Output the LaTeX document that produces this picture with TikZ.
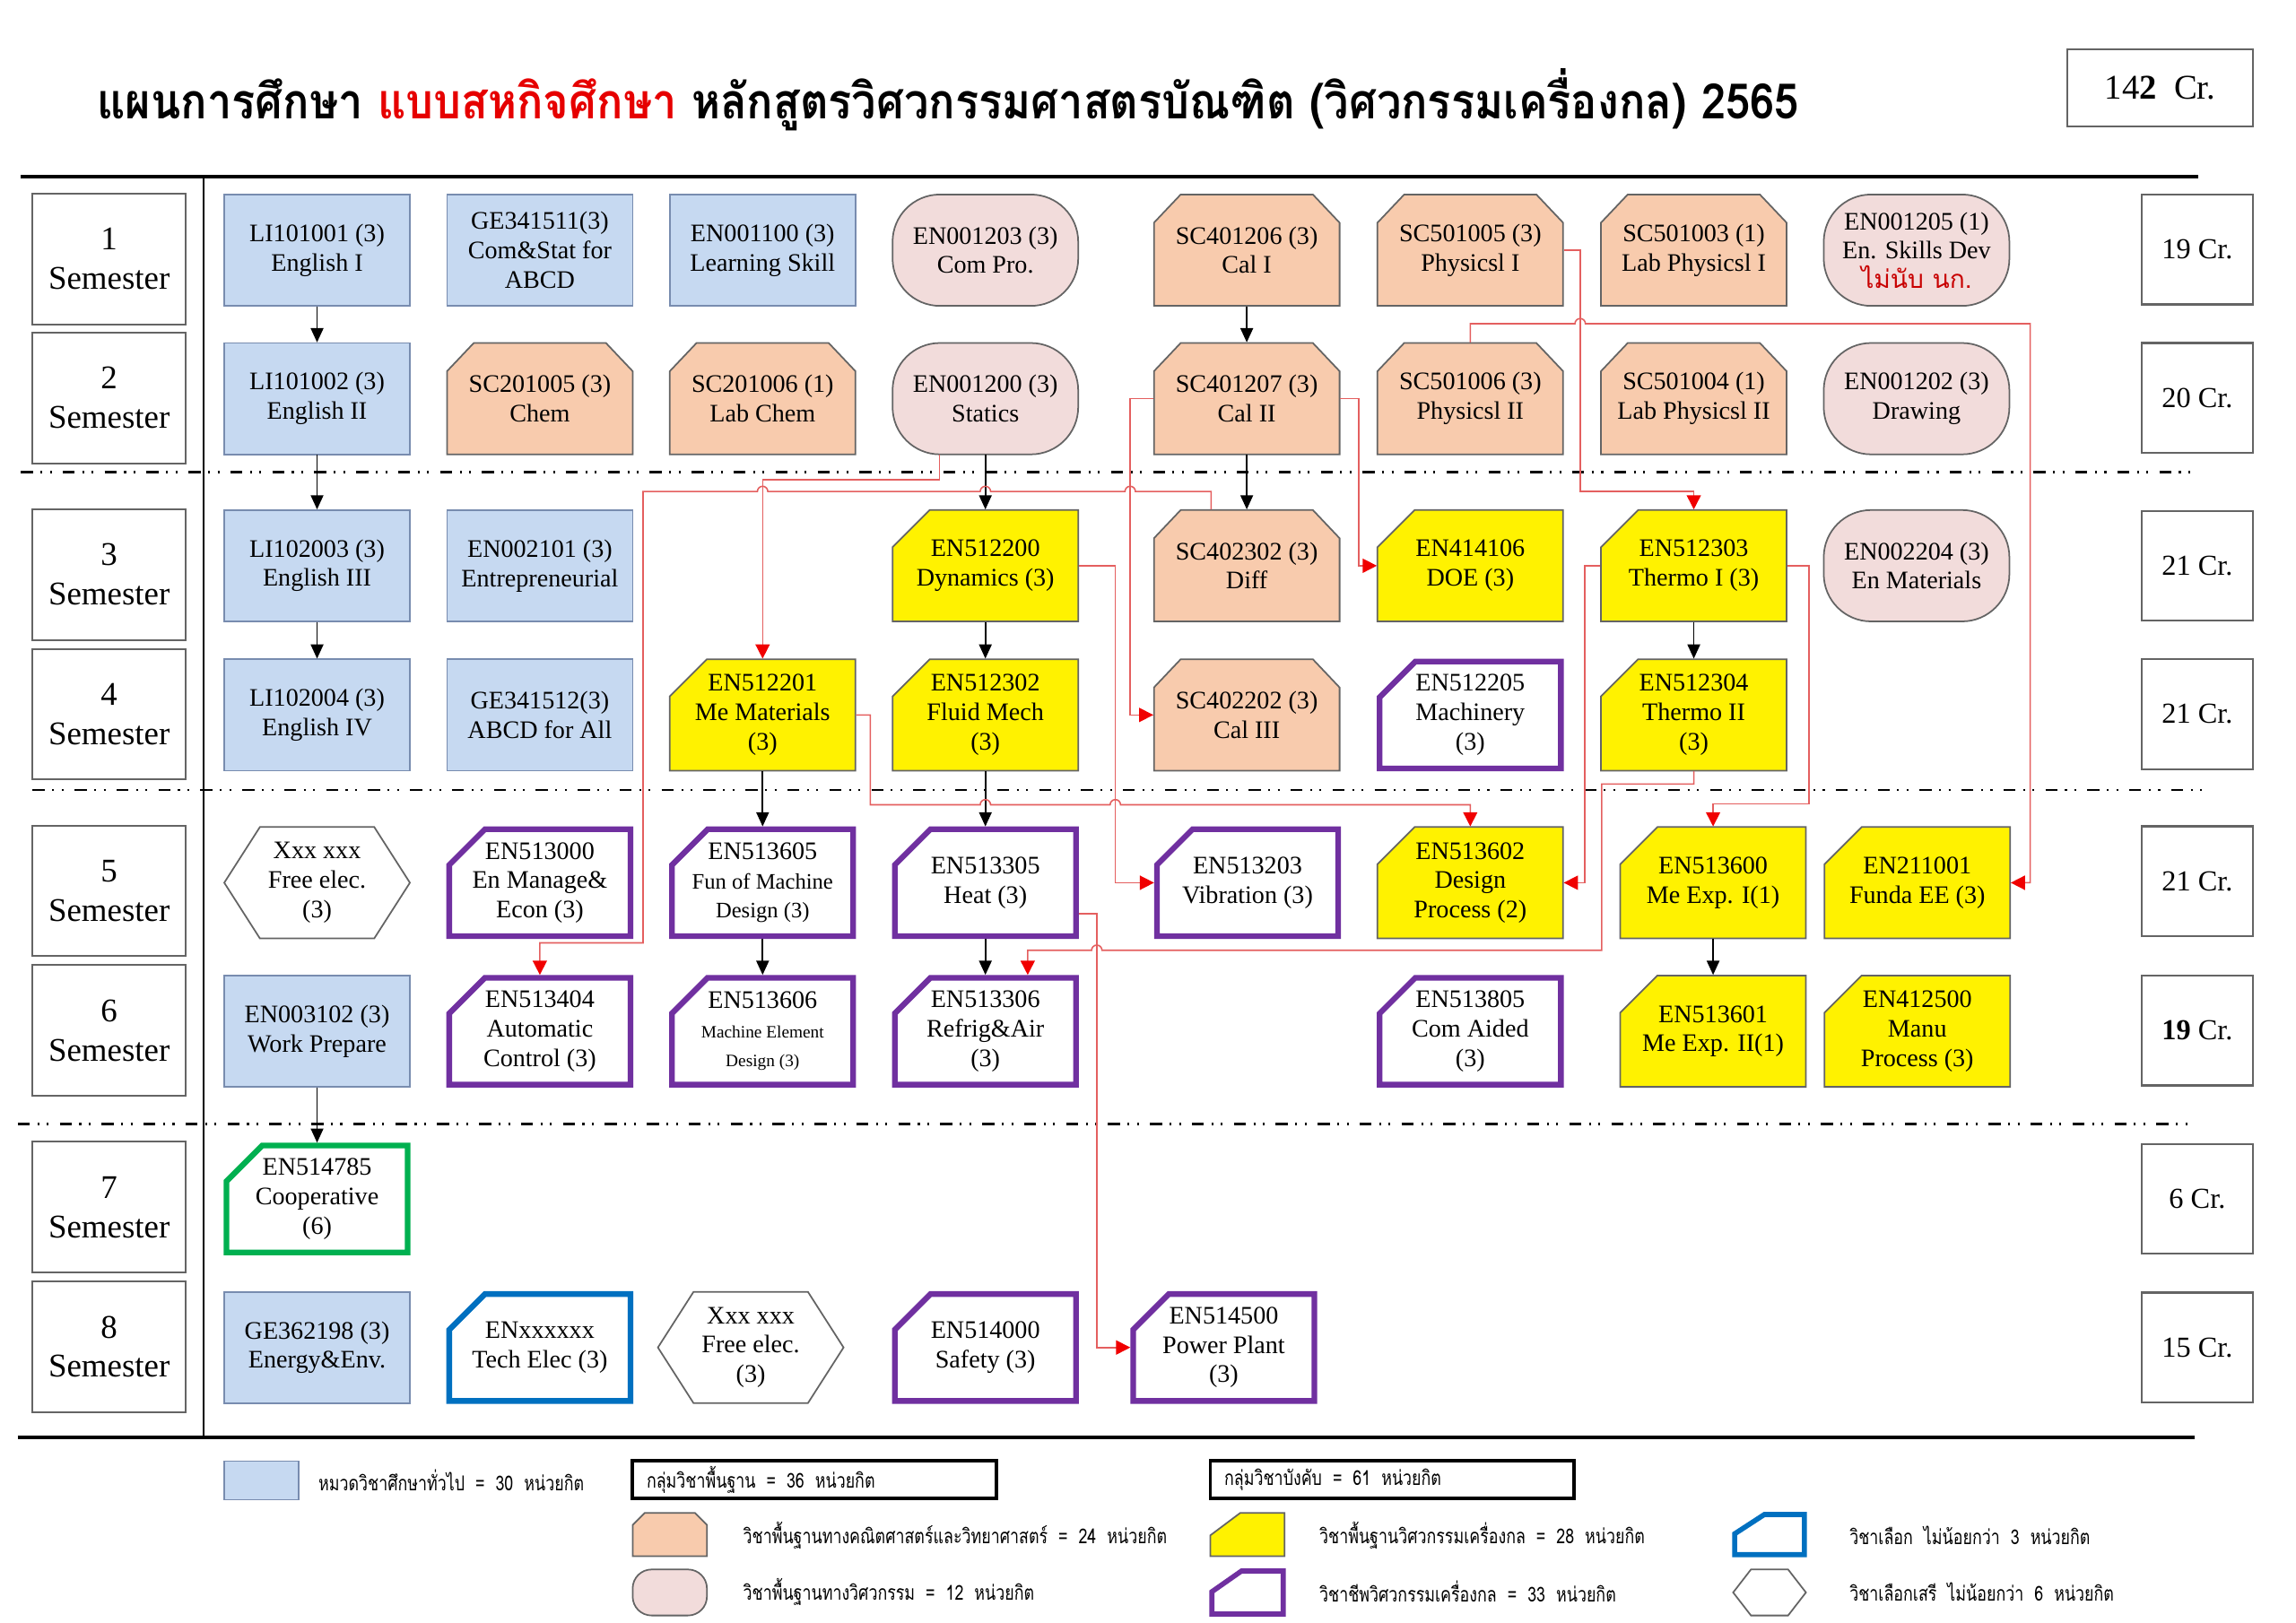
\documentclass[tikz,border=0pt]{standalone}
\usepackage{fontspec}
\setmainfont{Liberation Serif}
\newfontfamily\thai[Script=Thai]{Loma}
\usetikzlibrary{calc,arrows.meta}
\definecolor{bluefill}{RGB}{198,217,241}
\definecolor{bluebd}{RGB}{120,140,175}
\definecolor{orangefill}{RGB}{248,203,173}
\definecolor{pinkfill}{RGB}{242,220,219}
\definecolor{graybd}{RGB}{100,100,100}
\definecolor{purp}{RGB}{112,48,160}
\definecolor{grn}{RGB}{0,176,80}
\definecolor{elblue}{RGB}{0,112,192}
\definecolor{redln}{RGB}{228,95,95}
\definecolor{redtip}{RGB}{240,0,0}
\definecolor{titlered}{RGB}{230,0,0}
\definecolor{thred}{RGB}{200,0,0}
\def\U{0.016559cm}
\tikzset{
  bluebox/.style={draw=bluebd, fill=bluefill, line width=0.5pt},
  orangebox/.style={draw=graybd, fill=orangefill, line width=0.5pt},
  pinkbox/.style={draw=graybd, fill=pinkfill, line width=0.5pt, rounded corners=15pt},
  yellowbox/.style={draw=graybd, fill=yellow, line width=0.5pt},
  purplebox/.style={draw=purp, fill=white, line width=1.8pt},
  greenbox/.style={draw=grn, fill=white, line width=1.8pt},
  electbox/.style={draw=elblue, fill=white, line width=1.8pt},
  hexbox/.style={draw=graybd, fill=white, line width=0.5pt},
  thickbox/.style={draw=black, line width=1.1pt},
  crs/.style={inner sep=0pt, minimum width=125*\U, minimum height=75*\U, align=center, font=\fontsize{8}{9.3}\selectfont},
  sem/.style={draw=graybd, line width=0.6pt, fill=white, inner sep=0pt, minimum width=103*\U, minimum height=88*\U, align=center, font=\fontsize{10.5}{12.5}\selectfont},
  cr/.style={draw=graybd, line width=0.6pt, fill=white, inner sep=0pt, minimum width=75*\U, minimum height=74*\U, font=\fontsize{9.2}{11}\selectfont},
  crbig/.style={draw=graybd, line width=0.6pt, fill=white, inner sep=0pt, minimum width=125*\U, minimum height=52*\U, font=\fontsize{11}{13}\selectfont},
  solidln/.style={draw=black, line width=1pt},
  vertln/.style={draw=black, line width=0.7pt},
  dashln/.style={draw=black, line width=0.8pt, dash pattern=on 3.8pt off 2.4pt on 0.6pt off 2.4pt on 0.6pt off 3.5pt},
  barr/.style={draw=black, line width=0.5pt, -{Triangle[length=4.5pt,width=4pt]}},
  rarr/.style={draw=redln, line width=0.45pt, -{Triangle[length=4.5pt,width=4.5pt,color=redtip]}},
  legtxt/.style={anchor=west, inner sep=0pt, font=\thai\fontsize{6.5}{7}\selectfont},
}
\newcommand\shpblue{\path[bluebox] (-62.5,-37.5) rectangle (62.5,37.5);}
\newcommand\shporange{\path[orangebox] (-62.5,37.5) -- (-62.5,-18.5) -- (-44.5,-37.5) -- (44.5,-37.5) -- (62.5,-18.5) -- (62.5,37.5) -- cycle;}
\newcommand\shppink{\path[pinkbox] (-62.5,-37.5) rectangle (62.5,37.5);}
\newcommand\shpyellow{\path[yellowbox] (-62.5,37.5) -- (-62.5,-12.5) -- (-37.5,-37.5) -- (62.5,-37.5) -- (62.5,37.5) -- cycle;}
\newcommand\shppurple{\path[purplebox] (-61,36) -- (-61,-12) -- (-37,-36) -- (61,-36) -- (61,36) -- cycle;}
\newcommand\shpgreen{\path[greenbox] (-61,36) -- (-61,-12) -- (-37,-36) -- (61,-36) -- (61,36) -- cycle;}
\newcommand\shpelect{\path[electbox] (-61,36) -- (-61,-12) -- (-37,-36) -- (61,-36) -- (61,36) -- cycle;}
\newcommand\shphex{\path[hexbox] (-62.5,0) -- (-38.5,-37.5) -- (38.5,-37.5) -- (62.5,0) -- (38.5,37.5) -- (-38.5,37.5) -- cycle;}
\newcommand\crs[5]{\begin{scope}[shift={(#2,#3)}]\csname shp#4\endcsname\end{scope}\node[crs] (#1) at (#2,#3) {#5};}
\newcommand\leg[1]{\scalebox{0.78}[1]{#1}}
\begin{document}
\begin{tikzpicture}[x=0.016559cm,y=-0.016559cm]
\useasboundingbox[fill=white] (0,0) rectangle (1546,1093);
% title
\node[anchor=base west, inner sep=0pt, font=\thai\bfseries\fontsize{15.5}{17}\selectfont] (title) at (65,80) {\scalebox{0.895}[1]{แผนการศึกษา \textcolor{titlered}{แบบสหกิจศึกษา} หลักสูตรวิศวกรรมศาสตรบัณฑิต (วิศวกรรมเครื่องกล) 2565}};
\node[crbig] (total) at (1454.5,59) {14\textbf{2}\ \ Cr.};
% frame lines
\draw[solidln] (14,119) -- (1480,119);
\draw[vertln] (137,119) -- (137,968);
\draw[solidln] (12,968) -- (1478,968);
\draw[dashln] (14,318) -- (1480,318);
\draw[dashln] (22,532) -- (1487,532);
\draw[dashln] (12,757) -- (1478,757);
% semesters
\node[sem] (s1) at (73.5,174.5) {1\\Semester};
\node[sem] (s2) at (73.5,268) {2\\Semester};
\node[sem] (s3) at (73.5,387) {3\\Semester};
\node[sem] (s4) at (73.5,481) {4\\Semester};
\node[sem] (s5) at (73.5,600) {5\\Semester};
\node[sem] (s6) at (73.5,694) {6\\Semester};
\node[sem] (s7) at (73.5,813) {7\\Semester};
\node[sem] (s8) at (73.5,907) {8\\Semester};
% credits
\node[cr] (cr1) at (1479.5,168) {19 Cr.};
\node[cr] (cr2) at (1479.5,268) {20 Cr.};
\node[cr] (cr3) at (1479.5,381) {21 Cr.};
\node[cr] (cr4) at (1479.5,481) {21 Cr.};
\node[cr] (cr5) at (1479.5,593.5) {21 Cr.};
\node[cr] (cr6) at (1479.5,694) {\textbf{19} Cr.};
\node[cr] (cr7) at (1479.5,807.5) {6 Cr.};
\node[cr] (cr8) at (1479.5,907.5) {15 Cr.};
% row 1
\crs{li1}{213.5}{168.5}{blue}{LI101001 (3)\\English I}
\crs{ge1}{363.5}{168.5}{blue}{GE341511(3)\\Com\&Stat for\\ABCD}
\crs{learn}{513.5}{168.5}{blue}{EN001100 (3)\\Learning Skill}
\crs{compro}{663.5}{168.5}{pink}{EN001203 (3)\\Com Pro.}
\crs{cal1}{839.5}{168.5}{orange}{SC401206 (3)\\Cal I}
\crs{phys1}{990}{168.5}{orange}{SC501005 (3)\\Physicsl I}
\crs{labp1}{1140.5}{168.5}{orange}{SC501003 (1)\\Lab Physicsl I}
\crs{skills}{1290.5}{168.5}{pink}{EN001205 (1)\\En. Skills Dev\\{\thai\color{thred}ไม่นับ นก.}}
% row 2
\crs{li2}{213.5}{268.5}{blue}{LI101002 (3)\\English II}
\crs{chem}{363.5}{268.5}{orange}{SC201005 (3)\\Chem}
\crs{labchem}{513.5}{268.5}{orange}{SC201006 (1)\\Lab Chem}
\crs{statics}{663.5}{268.5}{pink}{EN001200 (3)\\Statics}
\crs{cal2}{839.5}{268.5}{orange}{SC401207 (3)\\Cal II}
\crs{phys2}{990}{268.5}{orange}{SC501006 (3)\\Physicsl II}
\crs{labp2}{1140.5}{268.5}{orange}{SC501004 (1)\\Lab Physicsl II}
\crs{drawing}{1290.5}{268.5}{pink}{EN001202 (3)\\Drawing}
% row 3
\crs{li3}{213.5}{381}{blue}{LI102003 (3)\\English III}
\crs{entre}{363.5}{381}{blue}{EN002101 (3)\\Entrepreneurial}
\crs{dyn}{663.5}{381}{yellow}{EN512200\\Dynamics (3)}
\crs{diff}{839.5}{381}{orange}{SC402302 (3)\\Diff}
\crs{doe}{990}{381}{yellow}{EN414106\\DOE (3)}
\crs{thermoa}{1140.5}{381}{yellow}{EN512303\\Thermo I (3)}
\crs{enmat}{1290.5}{381}{pink}{EN002204 (3)\\En Materials}
% row 4
\crs{li4}{213.5}{481.5}{blue}{LI102004 (3)\\English IV}
\crs{ge2}{363.5}{481.5}{blue}{GE341512(3)\\ABCD for All}
\crs{mematl}{513.5}{481.5}{yellow}{EN512201\\Me Materials\\(3)}
\crs{fluid}{663.5}{481.5}{yellow}{EN512302\\Fluid Mech\\(3)}
\crs{cal3}{839.5}{481.5}{orange}{SC402202 (3)\\Cal III}
\crs{machinery}{990}{481.5}{purple}{EN512205\\Machinery\\(3)}
\crs{thermob}{1140.5}{481.5}{yellow}{EN512304\\Thermo II\\(3)}
% row 5
\crs{freea}{213.5}{594.5}{hex}{Xxx xxx\\Free elec.\\(3)}
\crs{manage}{363.5}{594.5}{purple}{EN513000\\En Manage\&\\Econ (3)}
\crs{funmd}{513.5}{594.5}{purple}{EN513605\\{\fontsize{7}{8.5}\selectfont Fun of Machine}\\{\fontsize{7}{8.5}\selectfont Design (3)}}
\crs{heat}{663.5}{594.5}{purple}{EN513305\\Heat (3)}
\crs{vib}{840}{594.5}{purple}{EN513203\\Vibration (3)}
\crs{design}{990}{594.5}{yellow}{EN513602\\Design\\Process (2)}
\crs{meexpa}{1153.5}{594.5}{yellow}{EN513600\\Me Exp. I(1)}
\crs{fundaee}{1291}{594.5}{yellow}{EN211001\\Funda EE (3)}
% row 6
\crs{workprep}{213.5}{694.5}{blue}{EN003102 (3)\\Work Prepare}
\crs{autoctl}{363.5}{694.5}{purple}{EN513404\\Automatic\\Control (3)}
\crs{med}{513.5}{694.5}{purple}{EN513606\\{\fontsize{5.5}{6.5}\selectfont Machine Element}\\{\fontsize{5.5}{6.5}\selectfont Design (3)}}
\crs{refrig}{663.5}{694.5}{purple}{EN513306\\Refrig\&Air\\(3)}
\crs{comaided}{990}{694.5}{purple}{EN513805\\Com Aided\\(3)}
\crs{meexpb}{1153.5}{694.5}{yellow}{EN513601\\Me Exp. II(1)}
\crs{manu}{1291}{694.5}{yellow}{EN412500\\Manu\\Process (3)}
% row 7
\crs{coop}{213.5}{807.5}{green}{EN514785\\Cooperative\\(6)}
% row 8
\crs{energy}{213.5}{907.5}{blue}{GE362198 (3)\\Energy\&Env.}
\crs{techel}{363.5}{907.5}{elect}{ENxxxxxx\\Tech Elec (3)}
\crs{freeb}{505.5}{907.5}{hex}{Xxx xxx\\Free elec.\\(3)}
\crs{safety}{663.5}{907.5}{purple}{EN514000\\Safety (3)}
\crs{pplant}{824}{907.5}{purple}{EN514500\\Power Plant\\(3)}
% black prerequisite arrows
\draw[barr] (li1.south) -- (li2.north);
\draw[barr] (li2.south) -- (li3.north);
\draw[barr] (li3.south) -- (li4.north);
\draw[barr] (cal1.south) -- (cal2.north);
\draw[barr] (cal2.south) -- (diff.north);
\draw[barr] (statics.south) -- (dyn.north);
\draw[barr] (dyn.south) -- (fluid.north);
\draw[barr] (mematl.south) -- (funmd.north);
\draw[barr] (funmd.south) -- (med.north);
\draw[barr] (fluid.south) -- (heat.north);
\draw[barr] (heat.south) -- (refrig.north);
\draw[barr] (thermoa.south) -- (thermob.north);
\draw[barr] (meexpa.south) -- (meexpb.north);
\draw[barr] (workprep.south) -- (coop.north);
% red prerequisite connectors
\draw[rarr] ($(statics.south)+(-31,0)$) -- (632.5,323) -- (513.5,323) -- (mematl.north);
\draw[rarr] ($(diff.north)+(-24,0)$) -- (815.5,331) -- (764.5,331) arc(0:-180:3.5) -- (667,331) arc(0:-180:3.5) -- (517,331) arc(0:-180:3.5) -- (433,331) -- (433,635) -| (autoctl.north);
\draw[rarr] (cal2.west) -- (761,268.5) |- (cal3.west);
\draw[rarr] (cal2.east) -- (915,268.5) |- (doe.west);
\draw[rarr] (dyn.east) -- (751,381) |- (vib.west);
\draw[rarr] (mematl.east) -- (586,481.5) -- (586,542) -- (660,542) arc(180:360:3.5) -- (747.5,542) arc(180:360:3.5) -- (990,542) -- (design.north);
\draw[rarr] (phys1.east) -- (1064,168.5) -- (1064,331) -| (thermoa.north);
\draw[rarr] (phys2.north) -- (990,218) -- (1060.5,218) arc(180:360:3.5) -- (1367,218) |- (fundaee.east);
\draw[rarr] (thermoa.west) -- (1067,381) |- (design.east);
\draw[rarr] (thermoa.east) -- (1218,381) -- (1218,541.5) -| (meexpa.north);
\draw[rarr] (thermob.south) -- (1140.5,528) -- (1078.5,528) -- (1078.5,640) -- (742,640) arc(0:-180:3.5) -- (692,640) -- ($(refrig.north)+(28.5,0)$);
\draw[rarr] ($(heat.east)+(0,21)$) -- (738.5,615.5) |- (pplant.west);
% legend
\path[bluebox] (151,984) rectangle (201,1010);
\node[legtxt] (lga) at (214,997) {\leg{หมวดวิชาศึกษาทั่วไป\ \ =\ \ 30\ \ หน่วยกิต}};
\path[thickbox] (426,984) rectangle (671,1009);
\node[legtxt] (lgb) at (435,996.5) {\leg{กลุ่มวิชาพื้นฐาน\ \ =\ \ 36\ \ หน่วยกิต}};
\path[thickbox] (815,984) rectangle (1060,1009);
\node[legtxt] (lgc) at (824,996.5) {\leg{กลุ่มวิชาบังคับ\ \ =\ \ 61\ \ หน่วยกิต}};
\path[orangebox] (426,1048) -- (426,1027) -- (434,1019) -- (468,1019) -- (476,1027) -- (476,1048) -- cycle;
\node[legtxt] (lgd) at (500,1034) {\leg{วิชาพื้นฐานทางคณิตศาสตร์และวิทยาศาสตร์\ \ =\ \ 24\ \ หน่วยกิต}};
\path[pinkbox, rounded corners=6pt] (426,1057) rectangle (476,1088);
\node[legtxt] (lge) at (500,1072) {\leg{วิชาพื้นฐานทางวิศวกรรม\ \ =\ \ 12\ \ หน่วยกิต}};
\path[yellowbox] (815,1048) -- (815,1034) -- (835,1019) -- (865,1019) -- (865,1048) -- cycle;
\node[legtxt] (lgf) at (888,1034) {\leg{วิชาพื้นฐานวิศวกรรมเครื่องกล\ \ =\ \ 28\ \ หน่วยกิต}};
\path[purplebox, line width=1.6pt] (816,1087) -- (816,1072) -- (836,1058) -- (864,1058) -- (864,1087) -- cycle;
\node[legtxt] (lgg) at (888,1072) {\leg{วิชาชีพวิศวกรรมเครื่องกล\ \ =\ \ 33\ \ หน่วยกิต}};
\path[electbox, line width=1.6pt] (1168,1047) -- (1168,1033) -- (1188,1020) -- (1215,1020) -- (1215,1047) -- cycle;
\node[legtxt] (lgh) at (1245,1034) {\leg{วิชาเลือก\ \ ไม่น้อยกว่า\ \ 3\ \ หน่วยกิต}};
\path[hexbox] (1167,1072.5) -- (1179,1057) -- (1204,1057) -- (1216,1072.5) -- (1204,1088) -- (1179,1088) -- cycle;
\node[legtxt] (lgi) at (1245,1072) {\leg{วิชาเลือกเสรี\ \ ไม่น้อยกว่า\ \ 6\ \ หน่วยกิต}};
\end{tikzpicture}
\end{document}
